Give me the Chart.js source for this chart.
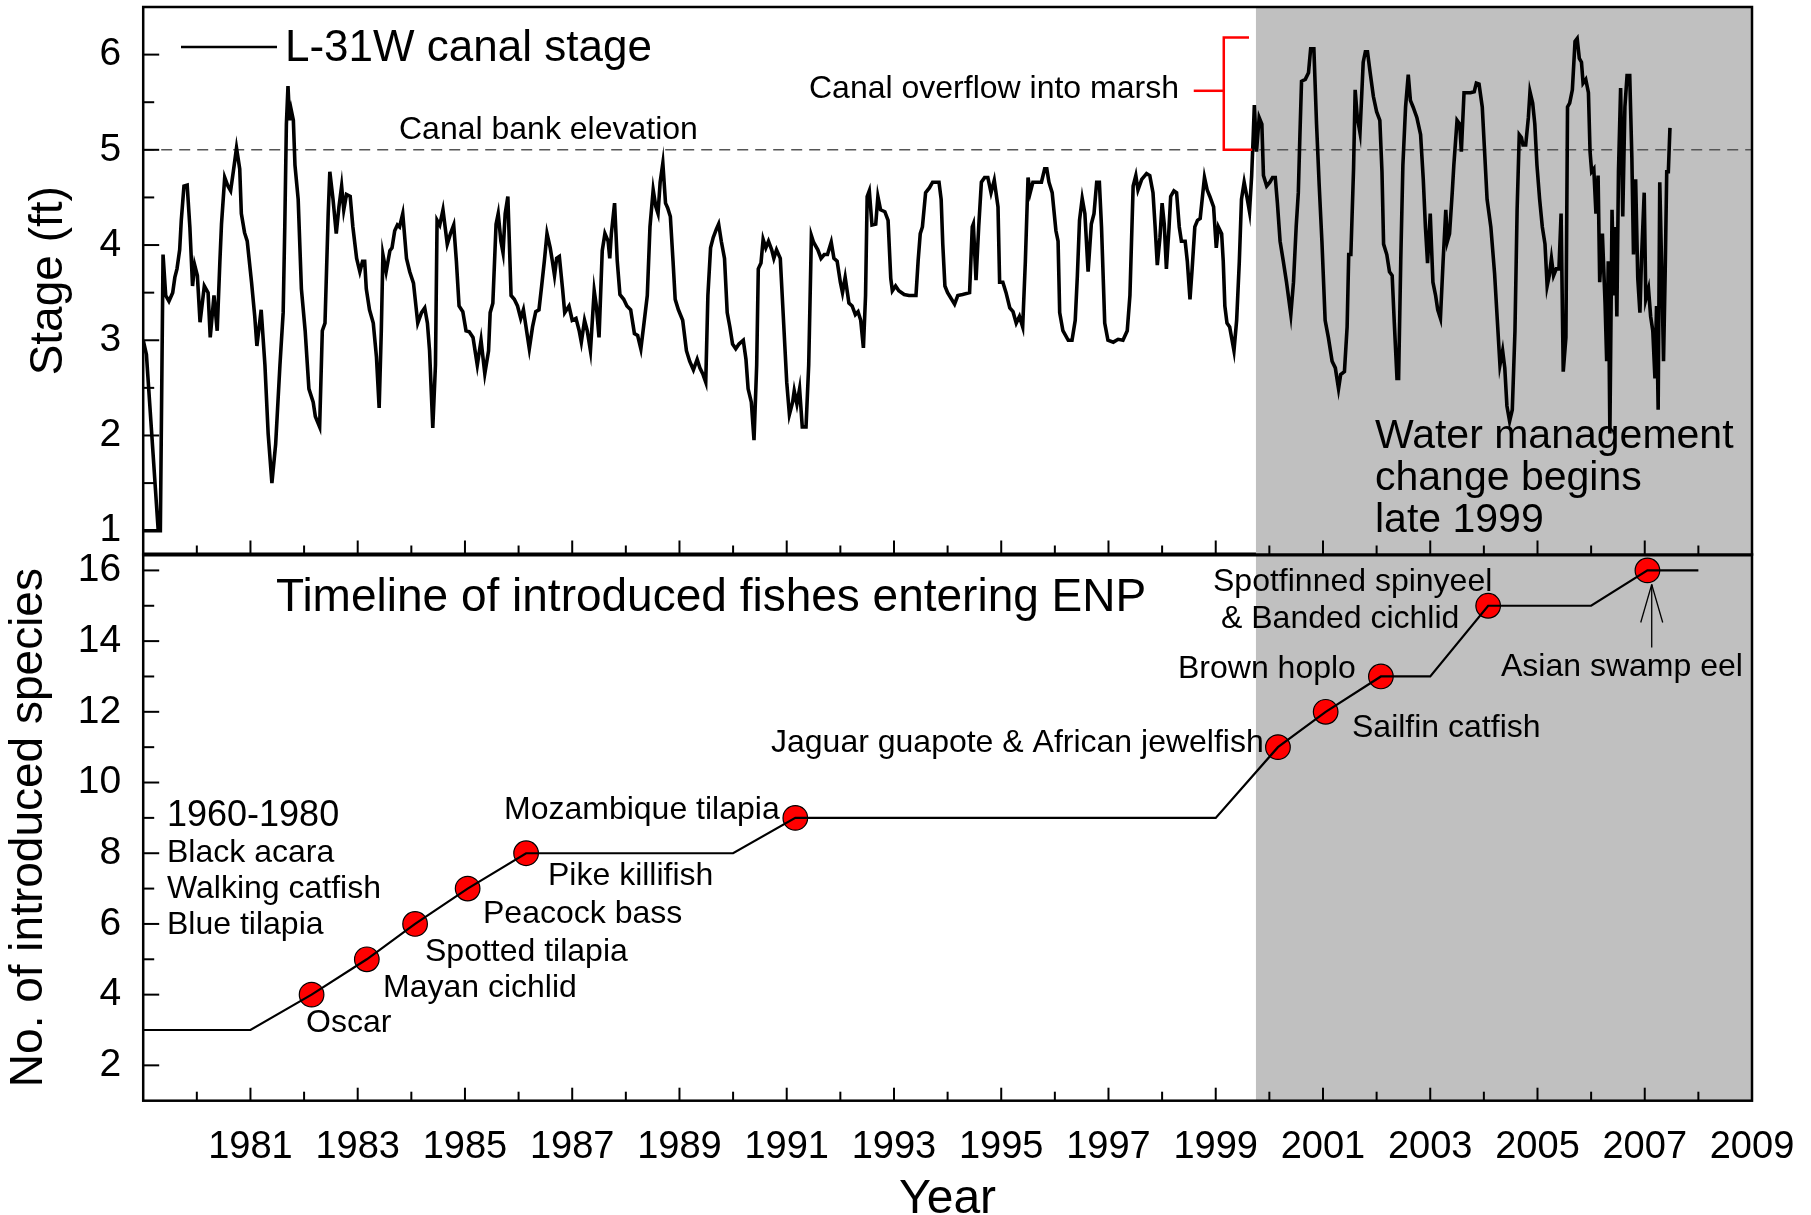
<!DOCTYPE html>
<html>
<head>
<meta charset="utf-8">
<title>L-31W canal stage and introduced fishes in ENP</title>
<script src="https://cdn.jsdelivr.net/npm/chart.js@4.4.1/dist/chart.umd.min.js"></script>
<style>
  html, body { margin: 0; padding: 0; background: #fff; overflow: hidden; }
  canvas { position: absolute; left: 0; top: 0; }
</style>
</head>
<body>
<canvas id="fishChart" width="1811" height="1215"></canvas>
<canvas id="stageChart" width="1811" height="1215"></canvas>
<script>
// L-31W canal stage (ft): [decimal year, stage]
const stageReadings = [
  [1979.00, 3.00], [1979.06, 2.85], [1979.28, 1.00], [1979.00, 1.00], [1979.32, 1.00], [1979.37, 3.90],
  [1979.42, 3.47], [1979.48, 3.41], [1979.55, 3.50], [1979.59, 3.66], [1979.63, 3.75], [1979.68, 3.95],
  [1979.71, 4.26], [1979.76, 4.62], [1979.82, 4.63], [1979.87, 4.19], [1979.92, 3.57], [1979.96, 3.79],
  [1980.01, 3.68], [1980.06, 3.19], [1980.14, 3.57], [1980.21, 3.50], [1980.25, 3.03], [1980.32, 3.47],
  [1980.38, 3.10], [1980.43, 3.83], [1980.46, 4.22], [1980.52, 4.71], [1980.58, 4.62], [1980.63, 4.57],
  [1980.68, 4.77], [1980.74, 5.02], [1980.80, 4.80], [1980.83, 4.33], [1980.89, 4.13], [1980.94, 4.04],
  [1981.02, 3.61], [1981.08, 3.25], [1981.12, 2.94], [1981.20, 3.32], [1981.27, 2.74], [1981.33, 2.02],
  [1981.40, 1.50], [1981.47, 1.91], [1981.55, 2.74], [1981.61, 3.29], [1981.64, 4.19], [1981.67, 5.27],
  [1981.70, 5.67], [1981.73, 5.31], [1981.76, 5.42], [1981.80, 5.31], [1981.83, 4.84], [1981.89, 4.48],
  [1981.95, 3.54], [1982.02, 3.10], [1982.09, 2.49], [1982.17, 2.35], [1982.21, 2.20], [1982.29, 2.09],
  [1982.34, 3.10], [1982.39, 3.18], [1982.45, 4.33], [1982.48, 4.77], [1982.54, 4.48], [1982.60, 4.12],
  [1982.65, 4.40], [1982.70, 4.62], [1982.74, 4.37], [1982.79, 4.53], [1982.86, 4.51], [1982.91, 4.19],
  [1982.98, 3.86], [1983.04, 3.72], [1983.09, 3.83], [1983.13, 3.83], [1983.16, 3.54], [1983.22, 3.32],
  [1983.29, 3.18], [1983.35, 2.82], [1983.40, 2.29], [1983.44, 3.10], [1983.47, 3.90], [1983.53, 3.72],
  [1983.60, 3.94], [1983.64, 3.97], [1983.69, 4.15], [1983.74, 4.21], [1983.78, 4.19], [1983.84, 4.33],
  [1983.91, 3.86], [1983.97, 3.72], [1984.04, 3.60], [1984.12, 3.18], [1984.19, 3.29], [1984.25, 3.34],
  [1984.30, 3.18], [1984.34, 2.89], [1984.40, 2.08], [1984.45, 2.74], [1984.48, 4.26], [1984.53, 4.21],
  [1984.59, 4.37], [1984.67, 4.01], [1984.73, 4.12], [1984.79, 4.21], [1984.84, 3.83], [1984.89, 3.36],
  [1984.96, 3.30], [1985.02, 3.10], [1985.08, 3.09], [1985.15, 3.03], [1985.23, 2.74], [1985.30, 3.00],
  [1985.37, 2.65], [1985.44, 2.89], [1985.47, 3.29], [1985.52, 3.39], [1985.58, 4.22], [1985.62, 4.33],
  [1985.67, 4.04], [1985.71, 3.92], [1985.75, 4.33], [1985.80, 4.51], [1985.86, 3.47], [1985.92, 3.43],
  [1985.98, 3.36], [1986.04, 3.23], [1986.09, 3.32], [1986.20, 2.91], [1986.26, 3.14], [1986.32, 3.30],
  [1986.38, 3.32], [1986.43, 3.57], [1986.48, 3.83], [1986.53, 4.12], [1986.59, 3.97], [1986.63, 3.83],
  [1986.67, 3.68], [1986.71, 3.86], [1986.76, 3.88], [1986.82, 3.54], [1986.86, 3.29], [1986.94, 3.36],
  [1987.00, 3.21], [1987.07, 3.23], [1987.13, 3.10], [1987.17, 2.98], [1987.23, 3.21], [1987.28, 3.10],
  [1987.34, 2.89], [1987.41, 3.52], [1987.45, 3.36], [1987.50, 3.03], [1987.56, 3.94], [1987.61, 4.12],
  [1987.67, 4.04], [1987.70, 3.86], [1987.73, 4.12], [1987.79, 4.44], [1987.84, 3.83], [1987.89, 3.48],
  [1987.96, 3.43], [1988.02, 3.36], [1988.09, 3.32], [1988.16, 3.07], [1988.22, 3.05], [1988.28, 2.91],
  [1988.33, 3.14], [1988.40, 3.47], [1988.45, 4.19], [1988.51, 4.58], [1988.56, 4.40], [1988.60, 4.33],
  [1988.64, 4.66], [1988.69, 4.86], [1988.74, 4.44], [1988.78, 4.39], [1988.83, 4.30], [1988.88, 3.83],
  [1988.92, 3.43], [1988.98, 3.32], [1989.06, 3.21], [1989.13, 2.89], [1989.19, 2.78], [1989.26, 2.69],
  [1989.33, 2.80], [1989.38, 2.71], [1989.44, 2.64], [1989.49, 2.56], [1989.53, 3.47], [1989.58, 3.97],
  [1989.63, 4.08], [1989.69, 4.17], [1989.73, 4.22], [1989.78, 4.04], [1989.84, 3.86], [1989.89, 3.29],
  [1989.94, 3.14], [1989.99, 2.96], [1990.05, 2.91], [1990.11, 2.96], [1990.19, 3.00], [1990.24, 2.80],
  [1990.28, 2.49], [1990.34, 2.35], [1990.39, 1.95], [1990.44, 2.74], [1990.47, 3.75], [1990.52, 3.81],
  [1990.56, 4.06], [1990.61, 3.97], [1990.66, 4.04], [1990.72, 3.95], [1990.76, 3.86], [1990.81, 3.95],
  [1990.88, 3.86], [1990.94, 3.21], [1991.00, 2.56], [1991.05, 2.22], [1991.11, 2.35], [1991.14, 2.47],
  [1991.19, 2.33], [1991.24, 2.49], [1991.29, 2.09], [1991.36, 2.09], [1991.41, 2.74], [1991.46, 4.10],
  [1991.50, 4.03], [1991.58, 3.95], [1991.64, 3.86], [1991.70, 3.90], [1991.76, 3.90], [1991.83, 4.03],
  [1991.88, 3.86], [1991.94, 3.83], [1992.00, 3.61], [1992.04, 3.50], [1992.09, 3.66], [1992.16, 3.39],
  [1992.22, 3.36], [1992.28, 3.27], [1992.33, 3.30], [1992.38, 3.21], [1992.43, 2.92], [1992.47, 3.47],
  [1992.50, 4.51], [1992.54, 4.57], [1992.59, 4.21], [1992.66, 4.22], [1992.70, 4.51], [1992.75, 4.37],
  [1992.83, 4.35], [1992.89, 4.26], [1992.94, 3.65], [1992.97, 3.52], [1993.03, 3.57], [1993.09, 3.52],
  [1993.19, 3.48], [1993.28, 3.47], [1993.41, 3.47], [1993.45, 3.83], [1993.49, 4.12], [1993.53, 4.19],
  [1993.59, 4.55], [1993.66, 4.60], [1993.72, 4.66], [1993.78, 4.66], [1993.84, 4.66], [1993.88, 4.48],
  [1993.91, 4.01], [1993.95, 3.57], [1994.00, 3.50], [1994.13, 3.38], [1994.19, 3.47], [1994.28, 3.48],
  [1994.41, 3.50], [1994.46, 4.19], [1994.48, 4.22], [1994.53, 3.63], [1994.58, 4.19], [1994.63, 4.66],
  [1994.69, 4.71], [1994.75, 4.71], [1994.81, 4.55], [1994.87, 4.68], [1994.94, 4.40], [1994.97, 3.61],
  [1995.03, 3.61], [1995.09, 3.50], [1995.16, 3.34], [1995.22, 3.30], [1995.28, 3.18], [1995.34, 3.25],
  [1995.40, 3.14], [1995.45, 3.83], [1995.50, 4.71], [1995.54, 4.55], [1995.59, 4.66], [1995.67, 4.66],
  [1995.75, 4.66], [1995.81, 4.80], [1995.85, 4.80], [1995.89, 4.66], [1995.95, 4.55], [1996.02, 4.15],
  [1996.06, 4.04], [1996.09, 3.29], [1996.15, 3.10], [1996.25, 3.00], [1996.32, 3.00], [1996.38, 3.21],
  [1996.42, 3.68], [1996.46, 4.26], [1996.51, 4.49], [1996.56, 4.33], [1996.62, 3.72], [1996.68, 4.22],
  [1996.73, 4.33], [1996.78, 4.66], [1996.83, 4.66], [1996.87, 4.19], [1996.93, 3.18], [1996.99, 3.00],
  [1997.09, 2.98], [1997.18, 3.01], [1997.27, 3.00], [1997.35, 3.10], [1997.40, 3.47], [1997.46, 4.62],
  [1997.51, 4.73], [1997.55, 4.58], [1997.62, 4.69], [1997.71, 4.75], [1997.77, 4.73], [1997.83, 4.55],
  [1997.87, 4.19], [1997.91, 3.79], [1997.96, 4.08], [1998.00, 4.44], [1998.04, 4.22], [1998.08, 3.75],
  [1998.13, 4.19], [1998.16, 4.51], [1998.22, 4.57], [1998.27, 4.55], [1998.32, 4.19], [1998.36, 4.04],
  [1998.43, 4.04], [1998.47, 3.83], [1998.52, 3.43], [1998.56, 3.75], [1998.61, 4.19], [1998.66, 4.26],
  [1998.71, 4.28], [1998.76, 4.55], [1998.79, 4.71], [1998.84, 4.58], [1998.89, 4.51], [1998.96, 4.40],
  [1999.01, 3.97], [1999.05, 4.19], [1999.11, 4.12], [1999.14, 3.83], [1999.17, 3.36], [1999.21, 3.18],
  [1999.26, 3.14], [1999.34, 2.89], [1999.39, 3.21], [1999.44, 3.83], [1999.48, 4.48], [1999.53, 4.66],
  [1999.58, 4.51], [1999.63, 4.35], [1999.67, 4.73], [1999.70, 5.16], [1999.72, 5.47], [1999.76, 4.98],
  [1999.81, 5.34], [1999.86, 5.27], [1999.89, 4.73], [1999.95, 4.62], [2000.01, 4.66], [2000.06, 4.71],
  [2000.11, 4.71], [2000.15, 4.44], [2000.20, 4.04], [2000.26, 3.83], [2000.32, 3.61], [2000.40, 3.27],
  [2000.45, 3.61], [2000.50, 4.19], [2000.54, 4.55], [2000.57, 5.16], [2000.60, 5.72], [2000.67, 5.74],
  [2000.73, 5.81], [2000.77, 6.06], [2000.83, 6.06], [2000.88, 5.27], [2000.93, 4.62], [2000.98, 4.04],
  [2001.04, 3.21], [2001.10, 3.03], [2001.17, 2.78], [2001.23, 2.71], [2001.29, 2.49], [2001.33, 2.64],
  [2001.40, 2.67], [2001.45, 3.14], [2001.48, 3.90], [2001.52, 3.90], [2001.57, 4.80], [2001.60, 5.63],
  [2001.64, 5.34], [2001.69, 5.18], [2001.75, 5.92], [2001.79, 6.03], [2001.83, 6.03], [2001.88, 5.81],
  [2001.94, 5.56], [2002.00, 5.40], [2002.06, 5.31], [2002.10, 4.77], [2002.13, 4.01], [2002.19, 3.90],
  [2002.24, 3.72], [2002.29, 3.68], [2002.33, 3.18], [2002.38, 2.60], [2002.41, 2.60], [2002.45, 3.83],
  [2002.49, 4.84], [2002.54, 5.45], [2002.59, 5.79], [2002.63, 5.52], [2002.68, 5.45], [2002.75, 5.34],
  [2002.82, 5.16], [2002.87, 4.69], [2002.91, 4.19], [2002.95, 3.81], [2003.00, 4.33], [2003.05, 3.61],
  [2003.10, 3.47], [2003.14, 3.32], [2003.19, 3.23], [2003.24, 3.83], [2003.29, 4.37], [2003.32, 4.04],
  [2003.36, 4.12], [2003.41, 4.55], [2003.44, 4.84], [2003.50, 5.31], [2003.55, 5.27], [2003.58, 4.98],
  [2003.63, 5.60], [2003.69, 5.60], [2003.75, 5.60], [2003.82, 5.61], [2003.86, 5.70], [2003.91, 5.69],
  [2003.97, 5.45], [2004.01, 5.02], [2004.06, 4.48], [2004.13, 4.19], [2004.20, 3.70], [2004.25, 3.22],
  [2004.30, 2.74], [2004.35, 2.89], [2004.39, 2.71], [2004.43, 2.31], [2004.48, 2.15], [2004.53, 2.27],
  [2004.58, 3.10], [2004.62, 4.37], [2004.66, 5.16], [2004.70, 5.13], [2004.73, 5.05], [2004.78, 5.05],
  [2004.83, 5.34], [2004.86, 5.61], [2004.91, 5.49], [2004.95, 5.27], [2004.99, 4.84], [2005.04, 4.48],
  [2005.09, 4.19], [2005.14, 4.01], [2005.18, 3.57], [2005.22, 3.68], [2005.26, 3.86], [2005.30, 3.68],
  [2005.35, 3.75], [2005.40, 3.75], [2005.44, 4.33], [2005.48, 2.67], [2005.53, 3.03], [2005.56, 5.45],
  [2005.60, 5.49], [2005.65, 5.63], [2005.70, 6.14], [2005.74, 6.17], [2005.78, 5.96], [2005.82, 5.92],
  [2005.85, 5.70], [2005.90, 5.74], [2005.95, 5.60], [2005.98, 4.98], [2006.01, 4.77], [2006.05, 4.80],
  [2006.09, 4.33], [2006.13, 4.73], [2006.16, 3.61], [2006.21, 4.12], [2006.26, 3.39], [2006.29, 2.78],
  [2006.32, 3.83], [2006.35, 2.02], [2006.39, 4.37], [2006.42, 3.47], [2006.45, 4.19], [2006.48, 3.25],
  [2006.51, 4.77], [2006.55, 5.65], [2006.57, 4.98], [2006.59, 4.30], [2006.63, 5.45], [2006.67, 5.78],
  [2006.72, 5.78], [2006.76, 4.91], [2006.79, 3.90], [2006.83, 4.69], [2006.87, 3.65], [2006.91, 3.29],
  [2006.94, 3.86], [2006.99, 4.55], [2007.02, 3.43], [2007.07, 3.54], [2007.11, 3.25], [2007.15, 3.10],
  [2007.19, 2.60], [2007.22, 3.36], [2007.25, 2.27], [2007.28, 4.66], [2007.32, 3.65], [2007.35, 2.78],
  [2007.38, 3.68], [2007.41, 4.77], [2007.44, 4.77], [2007.47, 5.23]
];
const bankElevation = 5;
const stageTicks = [1, 2, 3, 4, 5, 6];

// cumulative number of introduced species
const speciesYear  = [1979, 1981, 1982.14, 1983.17, 1984.07, 1985.05, 1986.14, 1990, 1991.16, 1999, 2000.16, 2001.05, 2002.08, 2003, 2004.08, 2006, 2007.05, 2008];
const speciesCount = [3, 3, 4, 5, 6, 7, 8, 8, 9, 9, 11, 12, 13, 13, 15, 15, 16, 16];

// first records of each fish (red markers)
const fishName  = ['Oscar', 'Mayan cichlid', 'Spotted tilapia', 'Peacock bass', 'Pike killifish', 'Mozambique tilapia',
                   'Jaguar guapote & African jewelfish', 'Sailfin catfish', 'Brown hoplo', 'Spotfinned spinyeel & Banded cichlid', 'Asian swamp eel'];
const fishYear  = [1982.14, 1983.17, 1984.07, 1985.05, 1986.14, 1991.16, 2000.16, 2001.05, 2002.08, 2004.08, 2007.05];
const fishCount = [4, 5, 6, 7, 8, 9, 11, 12, 13, 15, 16];
const speciesTicks = [2, 4, 6, 8, 10, 12, 14, 16];
const yearTicks = [1981, 1983, 1985, 1987, 1989, 1991, 1993, 1995, 1997, 1999, 2001, 2003, 2005, 2007, 2009];

const managementChangeYear = 1999.75;

const FONT = "'Liberation Sans', Arial, Helvetica, sans-serif";
Chart.defaults.color = '#000';
Chart.defaults.font.family = FONT;

function text(ctx, str, x, y, size) {
    ctx.font = size + 'px ' + FONT;
    ctx.fillStyle = '#000';
    ctx.textAlign = 'left';
    ctx.textBaseline = 'middle';
    ctx.fillText(str, x, y);
}

function line(ctx, x1, y1, x2, y2) {
    ctx.beginPath();
    ctx.moveTo(x1, y1);
    ctx.lineTo(x2, y2);
    ctx.stroke();
}

// keep the plot box where the original has it (no room for edge labels)
function fixWidth(s) {
    s.width = 143.2;
    s.paddingTop = 0;
    s.paddingBottom = 0;
}

// grey band: water management change from late 1999 on
const shadePlugin = {
    id: 'shade',
    beforeDatasetsDraw(chart) {
        const { ctx, chartArea: a, scales: { x } } = chart;
        const left = x.getPixelForValue(managementChangeYear);
        ctx.save();
        ctx.fillStyle = '#c0c0c0';
        ctx.fillRect(left, a.top, a.right - left, a.bottom - a.top);
        ctx.restore();
    }
};

// box and inward tick marks, like the original plotting program
const framePlugin = {
    id: 'frame',
    afterDatasetsDraw(chart, args, opts) {
        const { ctx, chartArea: a, scales: { x, y } } = chart;
        ctx.save();
        ctx.strokeStyle = '#000';
        ctx.lineWidth = 2;
        for (let yr = 1980; yr <= 2008; yr++) {
            const px = x.getPixelForValue(yr);
            line(ctx, px, a.bottom, px, a.bottom - (yr % 2 === 1 ? opts.xMajor : 9));
        }
        for (let v = opts.from; v <= opts.to + 1e-6; v += opts.step) {
            const py = y.getPixelForValue(v);
            const major = Math.abs(v / opts.major - Math.round(v / opts.major)) < 1e-6;
            line(ctx, a.left, py, a.left + (major ? 16 : 11), py);
        }
        ctx.lineWidth = 2.5;
        ctx.strokeRect(a.left, a.top, a.right - a.left, a.bottom - a.top);
        if (opts.topEdge) {
            ctx.lineWidth = 4;
            line(ctx, a.left, a.top, a.right, a.top);
        }
        ctx.restore();
    }
};

// legend, bracket and notes of the stage panel
const stageNotes = {
    id: 'stageNotes',
    afterDatasetsDraw(chart) {
        const { ctx, scales: { x, y } } = chart;
        ctx.save();
        ctx.strokeStyle = '#000';
        ctx.lineWidth = 2.5;
        line(ctx, 181, 47, 277, 47);
        text(ctx, 'L-31W canal stage', 285, 49, 44);
        text(ctx, 'Canal bank elevation', 399, 130, 32);
        text(ctx, 'Canal overflow into marsh', 809, 89, 32);
        ['Water management', 'change begins', 'late 1999'].forEach((t, i) => text(ctx, t, 1375, 437 + i * 42, 41));

        // red bracket = stages above the canal bank
        const bx = x.getPixelForValue(1999.15);
        const top = y.getPixelForValue(6.18), bot = y.getPixelForValue(bankElevation);
        ctx.strokeStyle = '#ff0000';
        ctx.lineWidth = 2.5;
        ctx.beginPath();
        ctx.moveTo(x.getPixelForValue(1999.62), top);
        ctx.lineTo(bx, top);
        ctx.lineTo(bx, bot);
        ctx.lineTo(x.getPixelForValue(1999.68), bot);
        ctx.stroke();
        const my = y.getPixelForValue(5.62);
        line(ctx, x.getPixelForValue(1998.59), my, bx, my);
        ctx.restore();
    }
};

// species names next to the markers
const fishNotes = {
    id: 'fishNotes',
    afterDatasetsDraw(chart) {
        const { ctx, scales: { x, y } } = chart;
        ctx.save();
        text(ctx, 'Timeline of introduced fishes entering ENP', 276, 598, 46);
        text(ctx, '1960-1980', 167, 816, 36);
        text(ctx, 'Black acara', 167, 853, 32);
        text(ctx, 'Walking catfish', 167, 889, 32);
        text(ctx, 'Blue tilapia', 167, 925, 32);
        text(ctx, 'Oscar', 306, 1023, 32);
        text(ctx, 'Mayan cichlid', 383, 988, 32);
        text(ctx, 'Spotted tilapia', 425, 952, 32);
        text(ctx, 'Peacock bass', 483, 914, 32);
        text(ctx, 'Pike killifish', 548, 876, 32);
        text(ctx, 'Mozambique tilapia', 504, 810, 32);
        text(ctx, 'Jaguar guapote & African jewelfish', 771, 743, 32);
        text(ctx, 'Brown hoplo', 1178, 669, 32);
        text(ctx, 'Spotfinned spinyeel', 1213, 582, 32);
        text(ctx, '& Banded cichlid', 1221, 619, 32);
        text(ctx, 'Sailfin catfish', 1352, 728, 32);
        text(ctx, 'Asian swamp eel', 1501, 667, 32);

        // arrow up to the Asian swamp eel record
        const ax = x.getPixelForValue(2007.13);
        const tip = y.getPixelForValue(15.6);
        ctx.strokeStyle = '#000';
        ctx.lineWidth = 1.3;
        line(ctx, ax, y.getPixelForValue(13.82), ax, tip);
        line(ctx, ax - 11, tip + 38, ax, tip);
        line(ctx, ax + 11, tip + 38, ax, tip);
        ctx.restore();
    }
};

const yTickFont = { size: 39, family: FONT };

new Chart(document.getElementById('stageChart'), {
    type: 'line',
    data: {
        datasets: [
            {
                label: 'L-31W canal stage',
                data: stageReadings.map(([yr, ft]) => ({ x: yr, y: ft })),
                borderColor: '#000', borderWidth: 3.6, pointRadius: 0, tension: 0
            },
            {
                label: 'Canal bank elevation',
                data: [{ x: 1979, y: bankElevation }, { x: 2009, y: bankElevation }],
                borderColor: '#555', borderWidth: 1.5, borderDash: [11, 7], pointRadius: 0
            }
        ]
    },
    options: {
        responsive: false,
        animation: false,
        layout: { padding: { left: 0, top: 7, right: 59, bottom: 660.5 } },
        plugins: {
            legend: { display: false },
            tooltip: { enabled: false },
            frame: { from: 1, to: 6, step: 0.5, major: 1, xMajor: 14 }
        },
        scales: {
            x: { type: 'linear', min: 1979, max: 2009, display: false },
            y: {
                min: 0.75, max: 6.5,
                afterBuildTicks: s => { s.ticks = stageTicks.map(v => ({ value: v })); },
                afterFit: fixWidth,
                grid: { display: false, drawTicks: false },
                border: { display: false },
                ticks: { font: yTickFont, color: '#000', padding: 22, callback: v => String(v) },
                title: { display: true, text: 'Stage (ft)', color: '#000', font: { size: 46, family: FONT }, padding: { top: 22, bottom: 0 } }
            }
        }
    },
    plugins: [shadePlugin, framePlugin, stageNotes]
});

new Chart(document.getElementById('fishChart'), {
    type: 'line',
    data: {
        datasets: [
            {
                label: 'Introduced species',
                data: speciesYear.map((yr, i) => ({ x: yr, y: speciesCount[i] })),
                borderColor: '#000', borderWidth: 2.2, pointRadius: 0, tension: 0
            },
            {
                label: 'First records',
                data: fishYear.map((yr, i) => ({ x: yr, y: fishCount[i], name: fishName[i] })),
                showLine: false,
                pointRadius: 12.3,
                pointBackgroundColor: '#ff0000',
                pointBorderColor: '#000',
                pointBorderWidth: 1.2
            }
        ]
    },
    options: {
        responsive: false,
        animation: false,
        layout: { padding: { left: 0, top: 554.5, right: 59, bottom: 0 } },
        plugins: {
            legend: { display: false },
            tooltip: { enabled: false },
            frame: { from: 2, to: 16, step: 1, major: 2, xMajor: 13, topEdge: true }
        },
        scales: {
            x: {
                type: 'linear', min: 1979, max: 2009,
                afterBuildTicks: s => { s.ticks = yearTicks.map(v => ({ value: v })); },
                afterFit: s => { s.height = 114.3; s.paddingLeft = 0; s.paddingRight = 0; },
                grid: { display: false, drawTicks: false },
                border: { display: false },
                ticks: { font: { size: 38, family: FONT }, color: '#000', padding: 24, maxRotation: 0, autoSkip: false, callback: v => String(v) },
                title: { display: true, text: 'Year', color: '#000', font: { size: 48, family: FONT }, padding: { top: 0, bottom: -14 } }
            },
            y: {
                min: 1, max: 16.45,
                afterBuildTicks: s => { s.ticks = speciesTicks.map(v => ({ value: v })); },
                afterFit: fixWidth,
                grid: { display: false, drawTicks: false },
                border: { display: false },
                ticks: { font: yTickFont, color: '#000', padding: 22, callback: v => String(v) },
                title: { display: true, text: 'No. of introduced species', color: '#000', font: { size: 46, family: FONT }, padding: { top: 1.4, bottom: 0 } }
            }
        }
    },
    plugins: [shadePlugin, framePlugin, fishNotes]
});
</script>
</body>
</html>
